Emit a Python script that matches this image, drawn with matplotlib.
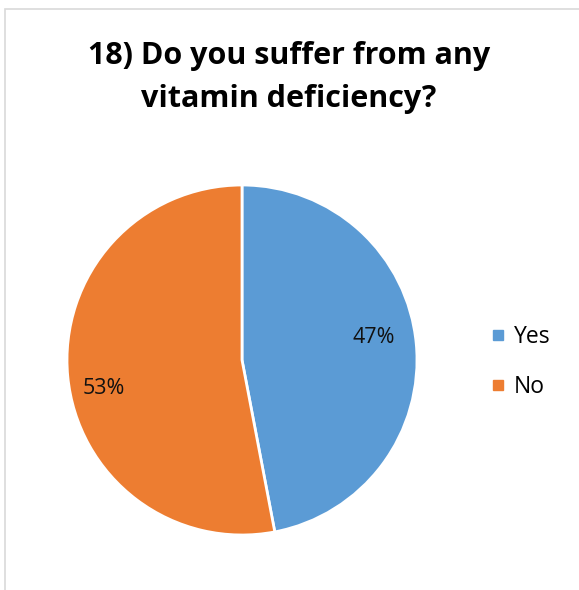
import matplotlib.pyplot as plt
from matplotlib.patches import Rectangle
from matplotlib.lines import Line2D

labels = ["Yes", "No"]
shares = [47, 53]
colors = ["#5B9BD5", "#ED7D31"]

plt.rcParams['font.family'] = ['Open Sans', 'DejaVu Sans']

fig = plt.figure(figsize=(5.79, 5.90), dpi=100)
W, H = 579, 590

# chart area border (light gray, cropped on right/bottom)
fig.add_artist(Rectangle((5 / W, -0.2), 2, 1.2 - 9 / H, transform=fig.transFigure,
                         fill=False, edgecolor="#D9D9D9", linewidth=1.2))

cx, cy, r = 242, 360, 175
ax = fig.add_axes([(cx - r) / W, (H - cy - r) / H, 2 * r / W, 2 * r / H])
wedges, texts, autotexts = ax.pie(
    shares, colors=colors, startangle=90, counterclock=False,
    autopct=lambda p: f"{round(p)}%", pctdistance=0.78,
    wedgeprops=dict(edgecolor="white", linewidth=2),
    textprops=dict(fontsize=15.5, color="#111111"))
ax.set_xlim(-1, 1)
ax.set_ylim(-1, 1)
ax.set_aspect("equal")

# Excel-style label placement
autotexts[0].set_position((0.754, 0.126))
autotexts[1].set_position((-0.789, -0.16))

fig.text(289 / W, 1 - 56 / H, "18) Do you suffer from any", ha="center", va="center",
         fontsize=22, fontweight="bold")
fig.text(289 / W, 1 - 99 / H, "vitamin deficiency?", ha="center", va="center",
         fontsize=22, fontweight="bold")

handles = [Line2D([0], [0], marker="s", linestyle="", markersize=7.5,
                  markerfacecolor=c, markeredgecolor=c) for c in colors]
fig.legend(handles, labels, loc="center left", bbox_to_anchor=(466 / W, 1 - 362 / H),
           frameon=False, fontsize=16.5, handletextpad=0.2, labelspacing=1.1,
           handlelength=1.0)

fig.savefig("out.png", dpi=100)
